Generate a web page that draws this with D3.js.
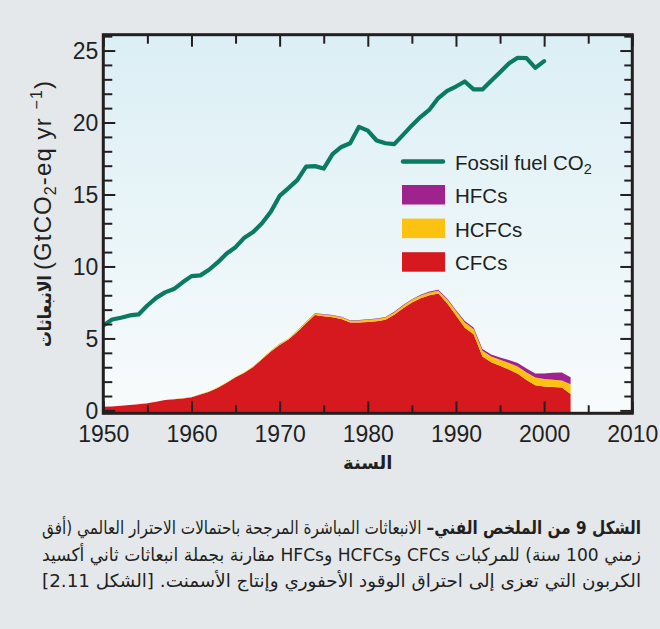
<!DOCTYPE html>
<html>
<head>
<meta charset="utf-8">
<script src="https://cdn.jsdelivr.net/npm/d3@7/dist/d3.min.js"></script>
<style>
  html, body { margin: 0; padding: 0; background: #e4e8eb; }
  svg { display: block; }
</style>
</head>
<body>
<svg id="chart" width="660" height="629"></svg>
<script>
// Fossil fuel CO2 emissions, GtCO2-eq per year, 1950-2000
const fossilYears = d3.range(1950, 2001);
const fossilCO2 = [
  5.9, 6.32, 6.44, 6.6, 6.67, 7.29, 7.82, 8.2, 8.43, 8.9,
  9.33, 9.38, 9.77, 10.3, 10.9, 11.34, 12.0, 12.4, 13.0, 13.8,
  14.9, 15.44, 16.0, 16.94, 16.97, 16.8, 17.8, 18.3, 18.56, 19.7,
  19.44, 18.75, 18.56, 18.5, 19.14, 19.8, 20.4, 20.9, 21.7, 22.2,
  22.5, 22.85, 22.3, 22.3, 22.9, 23.5, 24.1, 24.5, 24.47, 23.8,
  24.26
];

// Halocarbon emissions weighted by 100-year GWP, 1950-2003
const gasYears = d3.range(1950, 2004);
const cfcs = [
  0.25, 0.28, 0.32, 0.38, 0.43, 0.5, 0.6, 0.72, 0.78, 0.82,
  0.92, 1.1, 1.3, 1.58, 1.92, 2.3, 2.62, 3.02, 3.56, 4.1,
  4.55, 4.92, 5.45, 6.05, 6.62, 6.55, 6.47, 6.35, 6.1, 6.1,
  6.15, 6.2, 6.3, 6.65, 7.1, 7.5, 7.8, 8.0, 8.12, 7.45,
  6.6, 5.75, 5.3, 3.75, 3.35, 3.1, 2.85, 2.55, 2.12, 1.75,
  1.66, 1.63, 1.6, 1.14
];
const hcfcs = [
  0.0, 0.0, 0.0, 0.0, 0.0, 0.01, 0.01, 0.01, 0.01, 0.02,
  0.02, 0.02, 0.03, 0.03, 0.03, 0.04, 0.04, 0.05, 0.05, 0.06,
  0.07, 0.07, 0.08, 0.09, 0.1, 0.11, 0.12, 0.13, 0.13, 0.14,
  0.14, 0.15, 0.15, 0.16, 0.17, 0.18, 0.19, 0.2, 0.2, 0.25,
  0.3, 0.36, 0.36, 0.4, 0.4, 0.42, 0.45, 0.5, 0.52, 0.53,
  0.53, 0.5, 0.48, 0.68
];
const hfcs = [
  0, 0, 0, 0, 0, 0, 0, 0, 0, 0,
  0, 0, 0, 0, 0, 0, 0, 0, 0, 0,
  0.01, 0.01, 0.02, 0.02, 0.03, 0.03, 0.03, 0.03, 0.04, 0.04,
  0.04, 0.04, 0.04, 0.05, 0.05, 0.05, 0.05, 0.06, 0.06, 0.07,
  0.08, 0.1, 0.1, 0.11, 0.13, 0.16, 0.2, 0.25, 0.27, 0.28,
  0.38, 0.48, 0.55, 0.48
];

const seriesKeys = ["CFCs", "HCFCs", "HFCs"];
const seriesColors = { CFCs: "#d6181f", HCFCs: "#fdc110", HFCs: "#a0228e" };
const co2Label = "Fossil fuel CO";
const legendOrder = ["HFCs", "HCFCs", "CFCs"];

const xLabelTicks = [1950, 1960, 1970, 1980, 1990, 2000, 2010];
const xTickYears = d3.range(1950, 2011, 5);
const yLabelTicks = [0, 5, 10, 15, 20, 25];
const yTickValues = d3.range(0, 27, 1);

const yAxisArabic = "الانبعاثات";
const xAxisArabic = "السنة";
const captionLines = [
  { bold: "الشكل 9 من الملخص الفني–", rest: "الانبعاثات المباشرة المرجحة باحتمالات الاحترار العالمي (أفق" },
  { bold: "", rest: "زمني 100 سنة) للمركبات CFCs وHCFCs وHFCs مقارنة بجملة انبعاثات ثاني أكسيد" },
  { bold: "", rest: "الكربون التي تعزى إلى احتراق الوقود الأحفوري وإنتاج الأسمنت. [الشكل 2.11]" }
];

const ink = "#231f20";
const latin = "'Liberation Sans', Arial, Helvetica, sans-serif";
const arabic = "'DejaVu Sans', sans-serif";

const svg = d3.select("#chart");
const frame = { left: 103.3, right: 632.3, top: 34.7, bottom: 413.3 };

const x = d3.scaleLinear().domain([1950, 2010]).range([frame.left, frame.right]);
const y = d3.scaleLinear().domain([-0.2, 26.1]).range([frame.bottom, frame.top]);

// page background
svg.append("rect").attr("width", 660).attr("height", 629).attr("fill", "#e4e8eb");

// plot background gradient
const defs = svg.append("defs");
const grad = defs.append("linearGradient").attr("id", "plotBg")
  .attr("x1", 0).attr("y1", 0).attr("x2", 0).attr("y2", 1);
grad.append("stop").attr("offset", "0%").attr("stop-color", "#dbeff5");
grad.append("stop").attr("offset", "100%").attr("stop-color", "#f8fbfc");
defs.append("clipPath").attr("id", "plotClip").append("rect")
  .attr("x", frame.left).attr("y", frame.top)
  .attr("width", frame.right - frame.left).attr("height", frame.bottom - frame.top);

svg.append("rect")
  .attr("x", frame.left).attr("y", frame.top)
  .attr("width", frame.right - frame.left).attr("height", frame.bottom - frame.top)
  .attr("fill", "url(#plotBg)");

// stacked halocarbon areas
const gasTable = gasYears.map((yr, i) => ({ year: yr, CFCs: cfcs[i], HCFCs: hcfcs[i], HFCs: hfcs[i] }));
const stacked = d3.stack().keys(seriesKeys)(gasTable);
const area = d3.area()
  .x(d => x(d.data.year))
  .y0(d => d[0] === 0 ? frame.bottom : y(d[0]))
  .y1(d => y(d[1]));

const plot = svg.append("g").attr("clip-path", "url(#plotClip)");
plot.selectAll("path.layer")
  .data(stacked)
  .join("path")
  .attr("class", "layer")
  .attr("fill", d => seriesColors[d.key])
  .attr("d", area);

// fossil fuel CO2 line
const co2Line = d3.line().x((d, i) => x(fossilYears[i])).y(d => y(d));
plot.append("path")
  .datum(fossilCO2)
  .attr("fill", "none")
  .attr("stroke", "#0a7a62")
  .attr("stroke-width", 4.2)
  .attr("stroke-linejoin", "round")
  .attr("stroke-linecap", "round")
  .attr("d", co2Line);

// tick marks pointing inward on all four sides
function styleTicks(g) {
  g.select(".domain").remove();
  g.selectAll(".tick text").remove();
  g.selectAll(".tick line").attr("stroke", ink).attr("stroke-width", 2);
}
const bottomTicks = svg.append("g").attr("transform", `translate(0,${frame.bottom})`)
  .call(d3.axisTop(x).tickValues(xTickYears).tickSize(8).tickFormat(""));
styleTicks(bottomTicks);
bottomTicks.selectAll(".tick line").attr("y2", d => d % 10 === 0 ? -12 : -8);

const topTicks = svg.append("g").attr("transform", `translate(0,${frame.top})`)
  .call(d3.axisBottom(x).tickValues(xTickYears).tickSize(8).tickFormat(""));
styleTicks(topTicks);
topTicks.selectAll(".tick line").attr("y2", d => d % 10 === 0 ? 12 : 9);

const leftTicks = svg.append("g").attr("transform", `translate(${frame.left},0)`)
  .call(d3.axisRight(y).tickValues(yTickValues).tickSize(8).tickFormat(""));
styleTicks(leftTicks);
leftTicks.selectAll(".tick line").attr("x2", d => d % 5 === 0 ? 12 : 9);

const rightTicks = svg.append("g").attr("transform", `translate(${frame.right},0)`)
  .call(d3.axisLeft(y).tickValues(yTickValues).tickSize(8).tickFormat(""));
styleTicks(rightTicks);
rightTicks.selectAll(".tick line").attr("x2", d => d % 5 === 0 ? -12 : -8);

// frame
svg.append("rect")
  .attr("x", frame.left).attr("y", frame.top)
  .attr("width", frame.right - frame.left).attr("height", frame.bottom - frame.top)
  .attr("fill", "none").attr("stroke", ink).attr("stroke-width", 3);

// tick labels
const xLabels = svg.append("g").attr("transform", `translate(0,${frame.bottom})`)
  .call(d3.axisBottom(x).tickValues(xLabelTicks).tickSize(0).tickPadding(0).tickFormat(d3.format("d")));
xLabels.select(".domain").remove();
xLabels.selectAll(".tick text")
  .attr("y", 28.5).attr("dy", null)
  .attr("font-family", latin).attr("font-size", 23).attr("fill", ink);

const yLabels = svg.append("g").attr("transform", `translate(${frame.left},0)`)
  .call(d3.axisLeft(y).tickValues(yLabelTicks).tickSize(0).tickPadding(0).tickFormat(d3.format("d")));
yLabels.select(".domain").remove();
yLabels.selectAll(".tick text")
  .attr("x", -5).attr("dy", "0.33em")
  .attr("font-family", latin).attr("font-size", 23).attr("fill", ink);

// x axis title
svg.append("text")
  .attr("x", (frame.left + frame.right) / 2).attr("y", 469)
  .attr("text-anchor", "middle")
  .attr("font-family", arabic).attr("font-weight", "bold").attr("font-size", 18)
  .attr("fill", ink)
  .text(xAxisArabic);

// y axis title, rotated, reading bottom to top
const yTitle = svg.append("g").attr("transform", "translate(51,0) rotate(-90)");
yTitle.append("text")
  .attr("x", -347).attr("y", 0)
  .attr("font-family", arabic).attr("font-weight", "bold").attr("font-size", 18)
  .attr("textLength", 72).attr("lengthAdjust", "spacingAndGlyphs")
  .attr("fill", ink)
  .text(yAxisArabic);
const yUnits = yTitle.append("text")
  .attr("x", -270).attr("y", 0)
  .attr("font-family", latin).attr("font-size", 24).attr("fill", ink)
  .attr("textLength", 189).attr("lengthAdjust", "spacing");
yUnits.append("tspan").text("(GtCO");
yUnits.append("tspan").attr("font-size", 16).attr("dy", 5).text("2");
yUnits.append("tspan").attr("dy", -5).text("-eq yr ");
yUnits.append("tspan").attr("font-size", 16).attr("dy", -9).text("−1");
yUnits.append("tspan").attr("dy", 9).text(")");

// legend
const legend = svg.append("g");
legend.append("line")
  .attr("x1", 403).attr("x2", 443).attr("y1", 161.5).attr("y2", 161.5)
  .attr("stroke", "#0a7a62").attr("stroke-width", 4.5).attr("stroke-linecap", "round");
const co2Text = legend.append("text")
  .attr("x", 455).attr("y", 169.5)
  .attr("font-family", latin).attr("font-size", 20.5).attr("fill", ink);
co2Text.append("tspan").text(co2Label);
co2Text.append("tspan").attr("font-size", 14.5).attr("dy", 4).text("2");

legendOrder.forEach((key, i) => {
  const top = 185 + i * 33.6;
  legend.append("rect")
    .attr("x", 402).attr("y", top).attr("width", 43).attr("height", 19.5)
    .attr("fill", seriesColors[key]);
  legend.append("text")
    .attr("x", 455).attr("y", top + 18)
    .attr("font-family", latin).attr("font-size", 20.5).attr("fill", ink)
    .text(key);
});

// caption: right-to-left lines justified to the full width; the bold lead-in
// is its own text run placed at the right edge
const capRight = 641, capWidth = 599, capSize = 18, runGap = 5;
captionLines.forEach((line, i) => {
  const baseY = 534 + i * 26.5;
  const parts = [];
  if (line.bold) parts.push({ text: line.bold, weight: "bold" });
  parts.push({ text: line.rest, weight: "normal" });
  const nodes = parts.map(p => svg.append("text")
    .attr("y", baseY)
    .attr("direction", "rtl").style("direction", "rtl")
    .attr("text-anchor", "start")
    .attr("font-family", arabic).attr("font-size", capSize)
    .attr("font-weight", p.weight).attr("fill", ink)
    .text(p.text));
  const widths = nodes.map(n => n.node().getComputedTextLength());
  const gaps = runGap * (nodes.length - 1);
  const k = (capWidth - gaps) / d3.sum(widths);
  let cursor = capRight;
  nodes.forEach((n, j) => {
    const w = widths[j] * k;
    n.attr("x", cursor).attr("textLength", w).attr("lengthAdjust", "spacingAndGlyphs");
    cursor -= w + runGap;
  });
});
</script>
</body>
</html>
